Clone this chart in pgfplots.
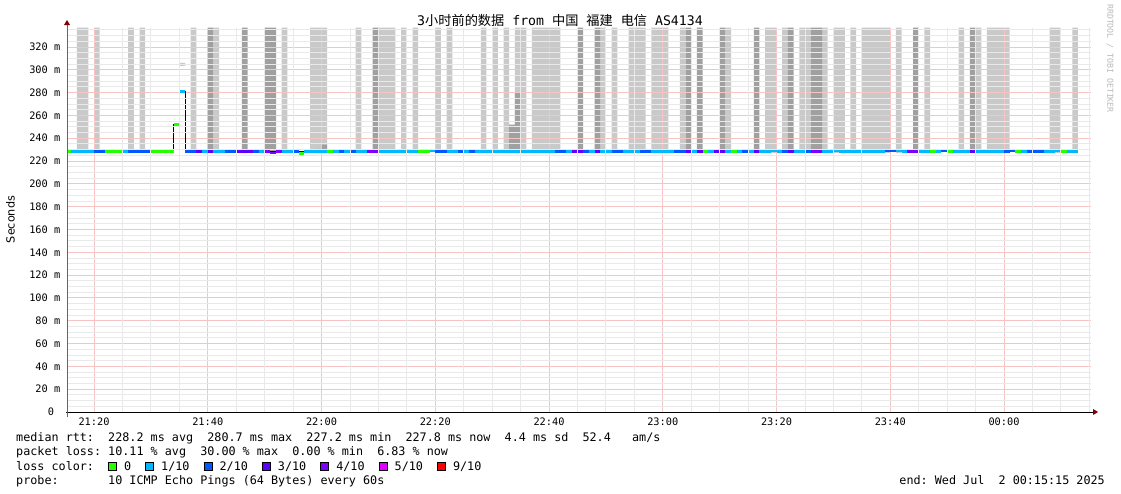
\documentclass[border=0pt]{standalone}
\usepackage{fontspec}
\setmainfont{DejaVu Sans}
\setmonofont{DejaVu Sans Mono}
\newfontfamily\cjk{Noto Sans CJK SC}
\usepackage{pgfplots}
\pgfplotsset{compat=1.18}

% smokeping loss colours
\definecolor{c0}{HTML}{26FF00}
\definecolor{c1}{HTML}{00B8FF}
\definecolor{c2}{HTML}{0059FF}
\definecolor{c3}{HTML}{5E00FF}
\definecolor{c4}{HTML}{7E00FF}
\definecolor{c5}{HTML}{DD00FF}
\definecolor{c9}{HTML}{FF0000}
\definecolor{smokeL}{RGB}{201,201,201}
\definecolor{smokeD}{RGB}{160,160,160}
\definecolor{mgrid}{RGB}{247,196,196}
\definecolor{mingrid}{RGB}{233,233,233}
\definecolor{arrowc}{RGB}{127,0,0}

\newcommand\lb[1]{{\setlength\fboxsep{0pt}\setlength\fboxrule{0.9bp}\fcolorbox{black}{#1}{\rule{0pt}{7bp}\rule{7bp}{0pt}}}}
\newcommand\legfont{\fontsize{11.76bp}{14bp}\selectfont\ttfamily}
\newcommand\tickfont{\fontsize{10.3bp}{12bp}\selectfont\ttfamily}

\begin{document}
\begin{tikzpicture}
\path[use as bounding box] (0bp,0bp) rectangle (1121bp,-494bp);
\begin{axis}[
  at={(67bp,-412bp)}, anchor=south west,
  scale only axis, width=1023.75bp, height=384.4bp,
  xmin=15.25, xmax=195.25, ymin=0, ymax=337,
  axis on top,
  axis line style={draw=none},
  major tick length=0pt, minor tick length=0pt,
  xtick={20,40,...,180},
  xticklabels={21:20,21:40,22:00,22:20,22:40,23:00,23:20,23:40,00:00},
  minor xtick={25,30,35,45,50,55,65,70,75,85,90,95,105,110,115,125,130,135,145,150,155,165,170,175,185,190,195},
  ytick={0,20,...,320},
  yticklabels={0~~,20 m,40 m,60 m,80 m,100 m,120 m,140 m,160 m,180 m,200 m,220 m,240 m,260 m,280 m,300 m,320 m},
  minor ytick={5,10,15,25,30,35,45,50,55,65,70,75,85,90,95,105,110,115,125,130,135,145,150,155,165,170,175,185,190,195,205,210,215,225,230,235,245,250,255,265,270,275,285,290,295,305,310,315,325,330,335},
  xminorgrids, yminorgrids,
  minor grid style={draw=mingrid, line width=0.9bp, solid},
  xticklabel style={font=\tickfont, inner sep=0pt, anchor=north, yshift=-5.5bp},
  yticklabel style={font=\tickfont, inner sep=0pt, anchor=east, xshift=-6.5bp},
  unbounded coords=jump,
]
% light smoke
\addplot[draw=none, fill=smokeL] coordinates {
 (17,227)(17,337)(19,337)(19,227)(19,nan)
 (20,227)(20,337)(21,337)(21,227)(21,nan)
 (26,227)(26,337)(27,337)(27,227)(27,nan)
 (28,227)(28,337)(29,337)(29,227)(29,nan)
 (35,303.5)(35,306)(36,306)(36,303.5)(36,nan)
 (37,227)(37,337)(38,337)(38,227)(38,nan)
 (41,227)(41,337)(42,337)(42,227)(42,nan)
 (53,227)(53,337)(54,337)(54,227)(54,nan)
 (58,227)(58,337)(61,337)(61,227)(61,nan)
 (66,227)(66,337)(67,337)(67,227)(67,nan)
 (70,227)(70,337)(73,337)(73,227)(73,nan)
 (74,227)(74,337)(75,337)(75,227)(75,nan)
 (76,227)(76,337)(77,337)(77,227)(77,nan)
 (80,227)(80,337)(81,337)(81,227)(81,nan)
 (82,227)(82,337)(83,337)(83,227)(83,nan)
 (88,227)(88,337)(89,337)(89,227)(89,nan)
 (90,227)(90,337)(91,337)(91,227)(91,nan)
 (92,227)(92,337)(93,337)(93,227)(93,nan)
 (94,227)(94,337)(96,337)(96,227)(96,nan)
 (97,227)(97,337)(102,337)(102,227)(102,nan)
 (109,227)(109,337)(110,337)(110,227)(110,nan)
 (111,227)(111,337)(112,337)(112,227)(112,nan)
 (114,227)(114,337)(117,337)(117,227)(117,nan)
 (118,227)(118,337)(121,337)(121,227)(121,nan)
 (123,227)(123,337)(124,337)(124,227)(124,nan)
 (131,227)(131,337)(132,337)(132,227)(132,nan)
 (138,227)(138,337)(140,337)(140,227)(140,nan)
 (141,227)(141,337)(142,337)(142,227)(142,nan)
 (144,227)(144,337)(146,337)(146,227)(146,nan)
 (148,227)(148,337)(149,337)(149,227)(149,nan)
 (150,227)(150,337)(152,337)(152,227)(152,nan)
 (153,227)(153,337)(154,337)(154,227)(154,nan)
 (155,227)(155,337)(160,337)(160,227)(160,nan)
 (161,227)(161,337)(162,337)(162,227)(162,nan)
 (166,227)(166,337)(167,337)(167,227)(167,nan)
 (172,227)(172,337)(173,337)(173,227)(173,nan)
 (175,227)(175,337)(176,337)(176,227)(176,nan)
 (177,227)(177,337)(181,337)(181,227)(181,nan)
 (188,227)(188,337)(190,337)(190,227)(190,nan)
 (192,227)(192,337)(193,337)(193,227)
};
% dark smoke
\addplot[draw=none, fill=smokeD] coordinates {
 (40,227)(40,337)(41,337)(41,227)(41,nan)
 (46,227)(46,337)(47,337)(47,227)(47,nan)
 (50,227)(50,337)(52,337)(52,227)(52,nan)
 (59,227)(59,230.6)(60,230.6)(60,227)(60,nan)
 (60,227)(60,234.5)(61,234.5)(61,227)(61,nan)
 (69,227)(69,337)(70,337)(70,227)(70,nan)
 (93,227)(93,252)(94,252)(94,227)(94,nan)
 (94,227)(94,280)(95,280)(95,227)(95,nan)
 (105,227)(105,337)(106,337)(106,227)(106,nan)
 (108,227)(108,337)(109,337)(109,227)(109,nan)
 (124,227)(124,337)(125,337)(125,227)(125,nan)
 (126,227)(126,337)(127,337)(127,227)(127,nan)
 (130,227)(130,337)(131,337)(131,227)(131,nan)
 (136,227)(136,337)(137,337)(137,227)(137,nan)
 (142,227)(142,337)(143,337)(143,227)(143,nan)
 (146,227)(146,337)(148,337)(148,227)(148,nan)
 (164,227)(164,337)(165,337)(165,227)(165,nan)
 (174,227)(174,337)(175,337)(175,227)
};
% major grid (light red)
\pgfplotsinvokeforeach{20,40,60,80,100,120,140,160,180}{
  \draw[draw=mgrid, line width=0.9bp] (axis cs:#1,0) -- (axis cs:#1,337);
}
\pgfplotsinvokeforeach{20,40,60,80,100,120,140,160,180,200,220,240,260,280,300,320}{
  \draw[draw=mgrid, line width=0.9bp] (axis cs:15.25,#1) -- (axis cs:195.25,#1);
}
% median line
\addplot[const plot, black, line width=1bp] coordinates {
 (15.25,228.2)(34,252.2)(35,280.7)(36,228.2)(193,228.2)
};
% loss colour segments
\addplot[c0, line width=2.8bp] coordinates {
 (15.25,228.2)(16,228.2)(16,nan)
 (22,228.2)(25,228.2)(25,nan)
 (30,228.2)(34,228.2)(34,nan)
 (34,252.2)(35,252.2)(35,nan)
 (56,226.6)(57,226.6)(57,nan)
 (61,228.2)(62,228.2)(62,nan)
 (77,228.2)(79,228.2)(79,nan)
 (127,228.2)(128,228.2)(128,nan)
 (132,228.2)(133,228.2)(133,nan)
 (167,228.2)(168,228.2)(168,nan)
 (170,228.2)(171,228.2)(171,nan)
 (182,228.2)(183,228.2)(183,nan)
 (190,228.2)(191,228.2)
};
\addplot[c1, line width=2.8bp] coordinates {
 (16,228.2)(20,228.2)(20,nan)
 (25,228.2)(26,228.2)(26,nan)
 (35,280.7)(36,280.7)(36,nan)
 (39,228.2)(40,228.2)(40,nan)
 (41,228.2)(43,228.2)(43,nan)
 (49,228.2)(50,228.2)(50,nan)
 (53,228.2)(55,228.2)(55,nan)
 (57,228.2)(61,228.2)(61,nan)
 (62,228.2)(63,228.2)(63,nan)
 (64,228.2)(65,228.2)(65,nan)
 (66,228.2)(68,228.2)(68,nan)
 (70,228.2)(77,228.2)(77,nan)
 (79,228.9)(80,228.9)(80,nan)
 (82,228.2)(84,228.2)(84,nan)
 (85,228.2)(86,228.2)(86,nan)
 (87,228.2)(101,228.2)(101,nan)
 (103,228.2)(104,228.2)(104,nan)
 (107,228.2)(108,228.2)(108,nan)
 (109,228.2)(111,228.2)(111,nan)
 (113,228.2)(116,228.2)(116,nan)
 (118,228.2)(122,228.2)(122,nan)
 (125,228.2)(126,228.2)(126,nan)
 (128,228.2)(129,228.2)(129,nan)
 (131,228.2)(132,228.2)(132,nan)
 (133,228.2)(134,228.2)(134,nan)
 (135,228.2)(136,228.2)(136,nan)
 (137,228.2)(139,228.2)(139,nan)
 (139,228.9)(140,228.9)(140,nan)
 (140,228.2)(141,228.2)(141,nan)
 (143,228.2)(145,228.2)(145,nan)
 (148,228.2)(150,228.2)(150,nan)
 (150,228.9)(151,228.9)(151,nan)
 (151,228.2)(159,228.2)(159,nan)
 (161,228.9)(162,228.9)(162,nan)
 (162,228.2)(163,228.2)(163,nan)
 (165,228.2)(167,228.2)(167,nan)
 (168,228.2)(169,228.2)(169,nan)
 (171,228.2)(174,228.2)(174,nan)
 (175,228.2)(180,228.2)(180,nan)
 (183,228.2)(184,228.2)(184,nan)
 (187,228.2)(189,228.2)(189,nan)
 (189,228.9)(190,228.9)(190,nan)
 (191,228.2)(193,228.2)
};
\addplot[c2, line width=2.8bp] coordinates {
 (20,228.2)(22,228.2)(22,nan)
 (26,228.2)(30,228.2)(30,nan)
 (36,228.2)(38,228.2)(38,nan)
 (43,228.2)(45,228.2)(45,nan)
 (48,228.2)(49,228.2)(49,nan)
 (55,228.2)(56,228.2)(56,nan)
 (63,228.2)(64,228.2)(64,nan)
 (65,228.2)(66,228.2)(66,nan)
 (80,228.2)(82,228.2)(82,nan)
 (84,228.2)(85,228.2)(85,nan)
 (86,228.2)(87,228.2)(87,nan)
 (101,228.2)(103,228.2)(103,nan)
 (106,228.2)(107,228.2)(107,nan)
 (111,228.2)(113,228.2)(113,nan)
 (116,228.2)(118,228.2)(118,nan)
 (122,228.2)(124,228.2)(124,nan)
 (134,228.2)(135,228.2)(135,nan)
 (141,228.2)(142,228.2)(142,nan)
 (145,228.2)(146,228.2)(146,nan)
 (159,228.9)(161,228.9)(161,nan)
 (169,228.9)(170,228.9)(170,nan)
 (180,228.2)(181,228.2)(181,nan)
 (181,228.9)(182,228.9)(182,nan)
 (184,228.2)(187,228.2)
};
\addplot[c3, line width=2.8bp] coordinates {
 (38,228.2)(39,228.2)(39,nan)
 (40,228.2)(41,228.2)(41,nan)
 (45,228.2)(48,228.2)(48,nan)
 (104,228.2)(106,228.2)(106,nan)
 (108,228.2)(109,228.2)(109,nan)
 (124,228.2)(125,228.2)(125,nan)
 (126,228.2)(127,228.2)(127,nan)
 (129,228.2)(131,228.2)(131,nan)
 (136,228.2)(137,228.2)(137,nan)
 (142,228.2)(143,228.2)(143,nan)
 (174,228.2)(175,228.2)
};
\addplot[c4, line width=2.8bp] coordinates {
 (50,228.2)(51,228.2)(51,nan)
 (51,227.0)(52,227.0)(52,nan)
 (52,228.2)(53,228.2)(53,nan)
 (68,228.2)(70,228.2)(70,nan)
 (146,228.2)(148,228.2)(148,nan)
 (163,228.2)(165,228.2)
};
\end{axis}
% axis lines and arrows
\draw[black, line width=1bp] (66bp,-412bp) -- (1093bp,-412bp);
\fill[arrowc] (1093bp,-409bp) -- (1098bp,-412bp) -- (1093bp,-415bp) -- cycle;
\draw[black!60, line width=1bp] (67bp,-417bp) -- (67bp,-24bp);
\fill[arrowc] (64bp,-25bp) -- (67bp,-20bp) -- (70bp,-25bp) -- cycle;
% title and labels
\node[anchor=base, inner sep=0pt, font=\fontsize{13.2bp}{15bp}\selectfont\ttfamily] at (560bp,-25.5bp)
  {3{\cjk 小时前的数据} from {\cjk 中国} {\cjk 福建} {\cjk 电信} AS4134};
\node[rotate=90, inner sep=0pt, font=\fontsize{11.2bp}{13bp}\selectfont] at (10.5bp,-219.5bp) {Seconds};
\node[rotate=-90, anchor=west, inner sep=0pt, text=black!28, font=\fontsize{8.2bp}{9bp}\selectfont\ttfamily] at (1110bp,-4bp) {RRDTOOL / TOBI OETIKER};
% legend block
\node[anchor=base west, inner sep=0pt, font=\legfont] at (16bp,-441bp)
  {median~rtt:~~228.2~ms~avg~~280.7~ms~max~~227.2~ms~min~~227.8~ms~now~~4.4~ms~sd~~52.4~~~am/s};
\node[anchor=base west, inner sep=0pt, font=\legfont] at (16bp,-455.5bp)
  {packet~loss:~10.11~\%~avg~~30.00~\%~max~~0.00~\%~min~~6.83~\%~now};
\node[anchor=base west, inner sep=0pt, font=\legfont] at (16bp,-470bp)
  {loss~color:~~\lb{c0}~0~~\lb{c1}~1/10~~\lb{c2}~2/10~~\lb{c3}~3/10~~\lb{c4}~4/10~~\lb{c5}~5/10~~\lb{c9}~9/10};
\node[anchor=base west, inner sep=0pt, font=\legfont] at (16bp,-484bp)
  {probe:~~~~~~~10~ICMP~Echo~Pings~(64~Bytes)~every~60s};
\node[anchor=base east, inner sep=0pt, font=\legfont] at (1105bp,-484bp)
  {end:~Wed~Jul~~2~00:15:15~2025};
\end{tikzpicture}
\end{document}
